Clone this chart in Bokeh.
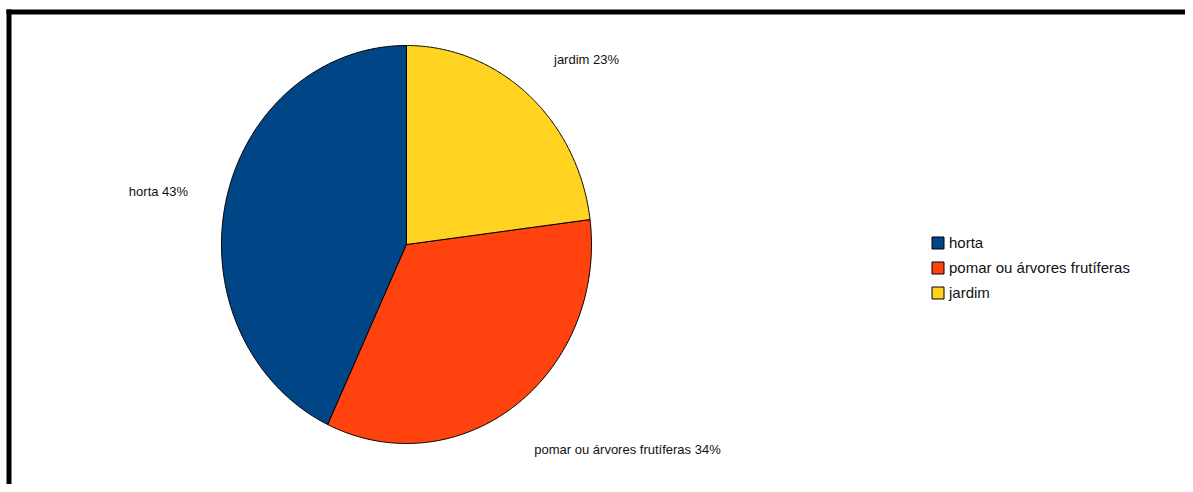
import numpy as np
from bokeh.plotting import figure
from bokeh.models import Range1d, Legend, LegendItem
from bokeh.core.properties import value
from bokeh.embed import file_html
from bokeh.resources import INLINE

# ---- data ----
categories = ["horta", "pomar ou árvores frutíferas", "jardim"]
percent = [43, 34, 23]
colors = ["#004586", "#ff420e", "#ffd320"]
data_labels = [f"{c} {v}%" for c, v in zip(categories, percent)]

# ---- layout (pixel coordinates of the picture) ----
W, H = 1185, 484
FONT = "Liberation Sans"
cx, cy, rx, ry = 406, 244, 185, 199
label_x = [158, 627, 586]
label_y = [191, 449, 59]

p = figure(width=W, height=H, x_range=Range1d(0, W), y_range=Range1d(H, 0),
           output_backend="svg", toolbar_location=None, min_border=0,
           x_axis_type=None, y_axis_type=None)
p.grid.visible = False
p.outline_line_color = None
p.background_fill_color = "white"

# frame lines (top and left)
p.quad(left=[6, 6], right=[1200, 11], top=[9, 9], bottom=[14, 500],
       fill_color="black", line_color=None)

# pie slices, counterclockwise from 12 o'clock
renderers = []
cum = 0.0
total = float(sum(percent))
for v, col in zip(percent, colors):
    a0 = np.pi / 2 + 2 * np.pi * cum / total
    a1 = np.pi / 2 + 2 * np.pi * (cum + v) / total
    th = np.linspace(a0, a1, 200)
    xs = [cx] + list(cx + rx * np.cos(th))
    ys = [cy] + list(cy - ry * np.sin(th))
    r = p.patch(xs, ys, fill_color=col, line_color="black", line_width=1)
    renderers.append(r)
    cum += v

p.text(x=label_x, y=label_y, text=data_labels, text_font=value(FONT),
       text_font_size="13px", text_align="center", text_baseline="middle",
       text_color="#111111")

items = [LegendItem(label=c, renderers=[r]) for c, r in zip(categories, renderers)]
legend = Legend(items=items, location=(930, 183), glyph_width=15, glyph_height=15,
                label_height=15, label_width=10, spacing=8, padding=0, margin=0,
                border_line_color=None, background_fill_alpha=0,
                label_text_font=FONT, label_text_font_size="15px",
                label_text_color="#111111",
                label_standoff=4, label_text_baseline="middle")
p.add_layout(legend, "center")

open("out.html", "w").write(file_html(p, INLINE))
